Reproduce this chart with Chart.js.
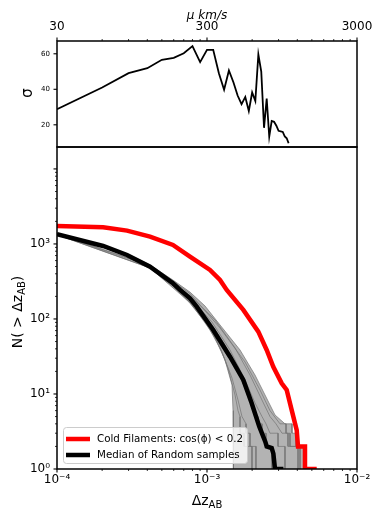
<!DOCTYPE html>
<html><head><meta charset="utf-8">
<script src="https://cdn.jsdelivr.net/npm/chart.js@4.4.0/dist/chart.umd.min.js"></script>
<style>
html,body{margin:0;padding:0;background:#fff;}
#wrap{position:relative;width:383px;height:511px;overflow:hidden;background:#fff;}
#topc{position:absolute;left:0;top:0;}
#botc{position:absolute;left:0;top:146px;}
</style></head><body>
<div id="wrap">
<canvas id="topc" width="383" height="150"></canvas>
<canvas id="botc" width="383" height="365"></canvas>
</div>
<script>
// ---------- top panel data ----------
const muKms = [30,60,90,120,150,180,210,240,270,300,330,360,390,420,450,480,510,540,570,600,630,660,690,720,750,780,810,840,870,900,930,960,990,1020,1050];
const sigma = [28.8,41.0,49.1,51.9,56.6,57.7,60.3,64.3,55.3,62.2,62.2,49.0,39.8,50.6,44.0,36.5,31.6,35.7,27.8,38.2,33.4,59.6,50.0,18.3,34.8,13.3,22.2,21.7,19.5,16.6,16.3,16.0,13.4,12.4,9.6];
const muTicks = [30,300,3000];
const muTickLabels = ['30','300','3000'];
const sigmaTicks = [20,40,60];
const sigmaTickLabels = ['20','40','60'];

// ---------- bottom panel data ----------
const dzCold = [1.00e-4,2.03e-4,2.93e-4,4.17e-4,5.93e-4,7.70e-4,1.047e-3,1.221e-3,1.353e-3,1.746e-3,2.198e-3,2.50e-3,2.767e-3,3.148e-3,3.399e-3,3.67e-3,3.963e-3,4.043e-3,4.50e-3,4.50e-3,5.387e-3];
const nCold  = [1740,1670,1504,1251,970,677,450,331,244,132,67.7,38.6,23.1,13.9,11.3,6.1,3.3,2,2,1,1];

const dzMedian = [1.00e-4,2.03e-4,2.93e-4,4.17e-4,5.93e-4,6.61e-4,7.70e-4,8.54e-4,1.10e-3,1.424e-3,1.746e-3,1.986e-3,2.23e-3,2.45e-3,2.50e-3,2.70e-3,2.77e-3,2.84e-3,3.23e-3];
const nMedian  = [1347,940,713,498,299,244,189,146,71.4,31.4,15.4,7.5,3.7,2.3,2,1.9,1.6,1,1];

// random samples (a representative subset read from the grey bundle)
const dzRandLow = [1.00e-4,2.03e-4,2.93e-4,4.17e-4,5.93e-4,7.70e-4,9.70e-4,1.131e-3,1.318e-3,1.468e-3,1.491e-3,1.50e-3];
const nRandLow  = [1320,915,690,475,275,162,91.2,55.8,28.4,13.2,6,1];
const dzRandHigh = [1.00e-4,2.03e-4,2.93e-4,4.17e-4,5.93e-4,7.70e-4,9.70e-4,1.221e-3,1.66e-3,2.089e-3,2.436e-3,2.84e-3,3.311e-3,3.687e-3,3.687e-3,3.92e-3,3.92e-3,4.50e-3,4.50e-3];
const nRandHigh  = [1375,965,740,525,330,228,149,83.2,38.6,17.9,9.7,5.25,4,4,3,3,2,2,1];
const dzRand3 = [1.00e-4,4.17e-4,7.70e-4,1.047e-3,1.318e-3,1.61e-3,1.877e-3,2.089e-3,2.188e-3,2.188e-3,2.326e-3,2.326e-3,2.474e-3,2.474e-3,2.712e-3,2.712e-3];
const nRand3  = [1339,486,179,91.2,45,19.7,9.7,5,5,4,4,3,3,2,2,1];
const dzRand4 = [1.00e-4,4.17e-4,7.70e-4,1.131e-3,1.538e-3,1.935e-3,2.326e-3,2.63e-3,2.884e-3,3.162e-3,3.467e-3,3.467e-3,4.043e-3,4.043e-3];
const nRand4  = [1360,512,205,97,41.1,17.9,8.3,5,4,3,3,2,2,1];
const dzRand5 = [1.00e-4,4.17e-4,7.70e-4,1.047e-3,1.259e-3,1.468e-3,1.61e-3,1.711e-3,1.82e-3,1.82e-3,1.935e-3,1.935e-3,2.121e-3,2.121e-3];
const nRand5  = [1330,480,170,71.4,36.3,16.3,8.3,5,4,3,3,2,2,1];
const dzRand6 = [1.00e-4,4.17e-4,7.70e-4,1.221e-3,1.792e-3,2.256e-3,2.63e-3,3.067e-3,3.363e-3,3.363e-3,3.575e-3,3.575e-3,4.169e-3,4.169e-3];
const nRand6  = [1370,520,218,75.9,26.7,11.3,6,4,4,3,3,2,2,1];
const dzRand7 = [1.00e-4,4.17e-4,7.70e-4,1.016e-3,1.221e-3,1.38e-3,1.538e-3,1.61e-3,1.66e-3,1.66e-3,1.765e-3,1.765e-3,1.995e-3,1.995e-3];
const nRand7  = [1325,478,165,86,42,22,9.7,6,5,3,3,2,2,1];
const dzRand8 = [1.00e-4,4.17e-4,7.70e-4,1.08e-3,1.424e-3,1.792e-3,2.089e-3,2.326e-3,2.474e-3,2.63e-3,2.974e-3,2.974e-3,3.311e-3,3.311e-3];
const nRand8  = [1352,505,195,91.2,38.6,15.4,7.6,5,4,3,3,2,2,1];

const dzTicks = [1e-4,1e-3,1e-2];
const dzTickLabels = ['10\u207B\u2074','10\u207B\u00B3','10\u207B\u00B2'];
const nTicks = [1,10,100,1000];
const nTickLabels = ['10\u2070','10\u00B9','10\u00B2','10\u00B3'];

const legendLabels = ['Cold Filaments: cos(\u03D5) < 0.2','Median of Random samples'];

// ---------- helpers ----------
const FONT = "'DejaVu Sans', sans-serif";
Chart.defaults.font.family = FONT;
Chart.defaults.color = '#000';
const pts = (xs, ys) => xs.map((v, i) => ({x: v, y: ys[i]}));

function minorLog(lo, hi, base) {
  const out = [];
  for (let d = base; d < hi; d *= 10) for (let k = 2; k <= 9; k++) { const v = k * d; if (v > lo * 1.0001 && v < hi) out.push(v); }
  return out;
}
function noPad(s) { s.paddingTop = 0; s.paddingBottom = 0; s.paddingLeft = 0; s.paddingRight = 0; }

function richText(ctx, parts, x, y, align) {
  let w = 0;
  parts.forEach(p => { ctx.font = p.size + 'px ' + FONT; p.w = ctx.measureText(p.t).width; w += p.w; });
  let cx = align === 'center' ? x - w / 2 : x;
  parts.forEach(p => { ctx.font = p.size + 'px ' + FONT; ctx.fillText(p.t, cx, y + (p.dy || 0)); cx += p.w; });
}

function decor(cfg) {
  return {
    id: 'decor',
    afterDraw(chart) {
      const ctx = chart.ctx, a = chart.chartArea;
      ctx.save();
      ctx.strokeStyle = '#000';
      for (const t of cfg.ticks) {
        const s = chart.scales[t.id];
        [[t.major, 3.5, 1.1], [t.minor, 2, 0.8]].forEach(([vals, len, lw]) => {
          ctx.lineWidth = lw;
          vals.forEach(v => {
            const p = s.getPixelForValue(v);
            ctx.beginPath();
            if (t.side === 'bottom') { ctx.moveTo(p, a.bottom); ctx.lineTo(p, a.bottom + len); }
            else if (t.side === 'top') { ctx.moveTo(p, a.top); ctx.lineTo(p, a.top - len); }
            else { ctx.moveTo(a.left, p); ctx.lineTo(a.left - len, p); }
            ctx.stroke();
          });
        });
      }
      ctx.lineWidth = 1.5;
      ctx.strokeRect(a.left, a.top, a.right - a.left, a.bottom - a.top);
      ctx.fillStyle = '#000';
      if (cfg.extra) cfg.extra(ctx, chart);
      ctx.restore();
    }
  };
}

// ---------- top chart ----------
new Chart(document.getElementById('topc'), {
  type: 'line',
  data: { datasets: [{ data: pts(muKms, sigma), borderColor: '#000', borderWidth: 1.8, pointRadius: 0, fill: false, tension: 0 }] },
  options: {
    responsive: false, animation: false, devicePixelRatio: 1,
    layout: { padding: { left: 0, right: 26, top: 0, bottom: 3 } },
    plugins: { legend: { display: false }, tooltip: { enabled: false } },
    scales: {
      x: {
        type: 'logarithmic', position: 'top', min: 30, max: 3000,
        grid: { display: false, drawTicks: false }, border: { display: false },
        afterBuildTicks: s => { s.ticks = muTicks.map(v => ({ value: v })); },
        ticks: { autoSkip: false, maxRotation: 0, padding: 7, font: { size: 12 }, callback: (v, i) => muTickLabels[i] },
        afterFit: s => { s.height = 41; noPad(s); }
      },
      y: {
        type: 'linear', min: 7.5, max: 67.2,
        grid: { display: false, drawTicks: false }, border: { display: false },
        afterBuildTicks: s => { s.ticks = sigmaTicks.map(v => ({ value: v })); },
        ticks: { autoSkip: false, padding: 7, font: { size: 7 }, callback: (v, i) => sigmaTickLabels[i] },
        afterFit: s => { s.width = 57; noPad(s); }
      }
    }
  },
  plugins: [decor({
    ticks: [
      { id: 'x', side: 'top', major: muTicks, minor: minorLog(30, 3000, 30) },
      { id: 'y', side: 'left', major: sigmaTicks, minor: [] }
    ],
    extra: (ctx) => {
      ctx.textAlign = 'center'; ctx.textBaseline = 'middle';
      ctx.font = 'italic 12px ' + FONT;
      ctx.fillText('\u03BC km/s', 207, 15.5);
      ctx.save();
      ctx.translate(28, 93); ctx.rotate(-Math.PI / 2);
      ctx.font = '15px ' + FONT;
      ctx.fillText('\u03C3', 0, 0);
      ctx.restore();
    }
  })]
});

// ---------- bottom chart ----------
const grayLine = 'rgba(115,115,115,0.7)';
const randSets = [[dzRand3,nRand3],[dzRand4,nRand4],[dzRand5,nRand5],[dzRand6,nRand6],[dzRand7,nRand7],[dzRand8,nRand8],[dzRandLow,nRandLow],[dzRandHigh,nRandHigh]];
const datasets = [
  { data: pts(dzCold, nCold), borderColor: '#ff0000', borderWidth: 4.5, pointRadius: 0, fill: false, clip: 0 },
  { data: pts(dzMedian, nMedian), borderColor: '#000000', borderWidth: 4.5, pointRadius: 0, fill: false, clip: 0 }
];
randSets.forEach(([d, n]) => datasets.push({ data: pts(d, n), borderColor: grayLine, borderWidth: 1, pointRadius: 0, fill: false, clip: 0 }));
// band: upper envelope filled grey, lower envelope masked white
datasets.push({ data: pts(dzRandLow, nRandLow), borderColor: 'rgba(0,0,0,0)', borderWidth: 0, pointRadius: 0, fill: 'start', backgroundColor: '#ffffff', clip: 0 });
datasets.push({ data: pts(dzRandHigh, nRandHigh), borderColor: 'rgba(0,0,0,0)', borderWidth: 0, pointRadius: 0, fill: 'start', backgroundColor: 'rgba(128,128,128,0.6)', clip: 0 });

new Chart(document.getElementById('botc'), {
  type: 'line',
  data: { datasets },
  options: {
    responsive: false, animation: false, devicePixelRatio: 1,
    layout: { padding: { left: 0, right: 26, top: 1, bottom: 0 } },
    plugins: { legend: { display: false }, tooltip: { enabled: false } },
    elements: { line: { tension: 0 } },
    scales: {
      x: {
        type: 'logarithmic', min: 1e-4, max: 1e-2,
        grid: { display: false, drawTicks: false }, border: { display: false },
        afterBuildTicks: s => { s.ticks = dzTicks.map(v => ({ value: v })); },
        ticks: { autoSkip: false, maxRotation: 0, padding: 4, font: { size: 12 }, callback: (v, i) => dzTickLabels[i] },
        afterFit: s => { s.height = 42; noPad(s); }
      },
      y: {
        type: 'logarithmic', min: 1, max: 19600,
        grid: { display: false, drawTicks: false }, border: { display: false },
        afterBuildTicks: s => { s.ticks = nTicks.map(v => ({ value: v })); },
        ticks: { autoSkip: false, padding: 7, font: { size: 12 }, callback: (v, i) => nTickLabels[i] },
        afterFit: s => { s.width = 57; noPad(s); }
      }
    }
  },
  plugins: [decor({
    ticks: [
      { id: 'x', side: 'bottom', major: dzTicks, minor: minorLog(1e-4, 1e-2, 1e-4) },
      { id: 'y', side: 'left', major: [1, 10, 100, 1000, 10000], minor: minorLog(1, 19600, 1) }
    ],
    extra: (ctx) => {
      ctx.textAlign = 'left'; ctx.textBaseline = 'alphabetic';
      richText(ctx, [{ t: '\u0394z', size: 14 }, { t: 'AB', size: 10, dy: 3 }], 207, 359, 'center');
      ctx.save();
      ctx.translate(22, 166); ctx.rotate(-Math.PI / 2);
      richText(ctx, [{ t: 'N( > \u0394z', size: 14 }, { t: 'AB', size: 10, dy: 3 }, { t: ')', size: 14 }], 0, 0, 'center');
      ctx.restore();
      const lx = 63, ly = 281, lw = 184, lh = 36;
      ctx.beginPath();
      ctx.roundRect(lx + 0.5, ly + 0.5, lw, lh, 3);
      ctx.fillStyle = 'rgba(255,255,255,0.8)'; ctx.fill();
      ctx.strokeStyle = '#cccccc'; ctx.lineWidth = 1; ctx.stroke();
      const items = [['#ff0000', legendLabels[0], 293], ['#000000', legendLabels[1], 309]];
      items.forEach(([c, txt, y]) => {
        ctx.strokeStyle = c; ctx.lineWidth = 4.5; ctx.lineCap = 'butt';
        ctx.beginPath(); ctx.moveTo(66, y); ctx.lineTo(90, y); ctx.stroke();
        ctx.fillStyle = '#000'; ctx.font = '10.3px ' + FONT; ctx.textBaseline = 'middle'; ctx.textAlign = 'left';
        ctx.fillText(txt, 97, y);
      });
    }
  })]
});
</script>
</body></html>
